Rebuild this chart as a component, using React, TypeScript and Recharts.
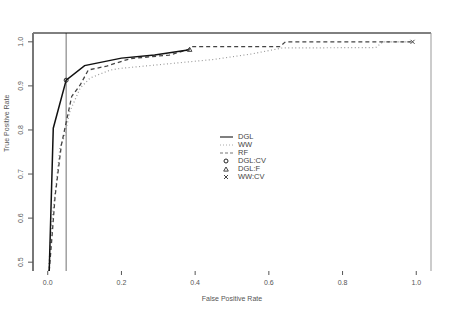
import React from "react";
import { ComposedChart, Line, Scatter, XAxis, YAxis, ReferenceLine, Legend } from "recharts";

// ROC curves (false positive rate vs true positive rate)
const dglFpr = [0.004, 0.015, 0.05, 0.1, 0.2, 0.29, 0.385];
const dglTpr = [0.48, 0.804, 0.913, 0.946, 0.963, 0.97, 0.982];

const wwFpr = [0.002, 0.012, 0.024, 0.033, 0.047, 0.06, 0.088, 0.115, 0.17, 0.2, 0.3, 0.45, 0.55, 0.636, 0.89, 0.91, 0.99];
const wwTpr = [0.48, 0.6, 0.686, 0.76, 0.789, 0.842, 0.895, 0.918, 0.936, 0.94, 0.948, 0.96, 0.972, 0.986, 0.987, 1.0, 1.0];

const rfFpr = [0.004, 0.013, 0.02, 0.037, 0.065, 0.088, 0.11, 0.16, 0.225, 0.33, 0.38, 0.39, 0.63, 0.645, 0.99];
const rfTpr = [0.48, 0.573, 0.65, 0.766, 0.876, 0.902, 0.936, 0.945, 0.962, 0.97, 0.982, 0.989, 0.989, 1.0, 1.0];

// single operating points
const dglCvPoint = [0.05, 0.913];
const dglFPoint = [0.385, 0.982];
const wwCvPoint = [0.99, 1.0];

const xTicks = [0, 0.2, 0.4, 0.6, 0.8, 1.0];
const yTicks = [0.5, 0.6, 0.7, 0.8, 0.9, 1.0];
const cutoffFpr = 0.05;

const legendNames = ["DGL", "WW", "RF", "DGL:CV", "DGL:F", "WW:CV"];

const toPoints = (xs: number[], ys: number[]) => xs.map((x, i) => ({ x, y: ys[i] }));

const FONT = "'Liberation Sans', Arial, sans-serif";
const TEXT = "#555";

const YTick = ({ x, y, payload }: any) => (
  <text
    x={x - 3}
    y={y}
    transform={`rotate(-90, ${x - 3}, ${y})`}
    textAnchor="middle"
    fontSize={7}
    fill={TEXT}
    fontFamily={FONT}
  >
    {payload.value.toFixed(1)}
  </text>
);

const Circle = ({ cx, cy }: any) => <circle cx={cx} cy={cy} r={2} fill="none" stroke="#222" strokeWidth={1} />;
const Triangle = ({ cx, cy }: any) => (
  <path d={`M${cx},${cy - 2.5}L${cx + 2.3},${cy + 1.6}L${cx - 2.3},${cy + 1.6}Z`} fill="none" stroke="#444" strokeWidth={1} />
);
const Cross = ({ cx, cy }: any) => (
  <path d={`M${cx - 2},${cy - 2}L${cx + 2},${cy + 2}M${cx - 2},${cy + 2}L${cx + 2},${cy - 2}`} stroke="#444" strokeWidth={1} />
);

function LegendBox() {
  const sample = (i: number) => {
    if (i === 0) return <line x1={2} x2={15} y1={4} y2={4} stroke="#555" strokeWidth={1.5} />;
    if (i === 1) return <line x1={2} x2={15} y1={4} y2={4} stroke="#aaa" strokeWidth={1} strokeDasharray="1 2" />;
    if (i === 2) return <line x1={2} x2={15} y1={4} y2={4} stroke="#777" strokeWidth={1.2} strokeDasharray="3 2" />;
    if (i === 3) return <Circle cx={8} cy={4} />;
    if (i === 4) return <Triangle cx={8} cy={4.5} />;
    return <Cross cx={8} cy={4} />;
  };
  return (
    <div style={{ fontFamily: FONT, fontSize: 7.5, color: "#444", lineHeight: "8px" }}>
      {legendNames.map((name, i) => (
        <div key={name} style={{ display: "flex", alignItems: "center", height: 8 }}>
          <svg width={20} height={8}>{sample(i)}</svg>
          <span>{name}</span>
        </div>
      ))}
    </div>
  );
}

export default function App() {
  return (
    <div style={{ position: "fixed", left: 0, top: 0, background: "#fff" }}>
      <ComposedChart width={450} height={312} margin={{ top: 32, right: 18, left: 2, bottom: 9 }}>
        <XAxis
          dataKey="x"
          type="number"
          domain={[-0.04, 1.04]}
          ticks={xTicks}
          allowDataOverflow
          axisLine={false}
          tickLine={{ stroke: "#555" }}
          tickSize={4}
          tickMargin={5}
          height={32}
          tick={{ fontSize: 7, fill: TEXT, fontFamily: FONT }}
          tickFormatter={(v: number) => v.toFixed(1)}
          label={{ value: "False Positive Rate", position: "insideBottom", offset: 2, fontSize: 7, fill: TEXT, fontFamily: FONT }}
        />
        <XAxis xAxisId="top" dataKey="x" orientation="top" type="number" domain={[-0.04, 1.04]} allowDataOverflow height={1} tick={false} tickLine={false} axisLine={{ stroke: "#000", strokeWidth: 1 }} />
        <YAxis
          type="number"
          domain={[0.48, 1.02]}
          ticks={yTicks}
          allowDataOverflow
          width={31}
          axisLine={{ stroke: "#777", strokeWidth: 2 }}
          tickLine={{ stroke: "#555" }}
          tickSize={5}
          tickMargin={2}
          tick={<YTick />}
          label={{ value: "True Positive Rate", angle: -90, position: "insideLeft", offset: 5, fontSize: 7, fill: TEXT, fontFamily: FONT }}
        />
        <YAxis yAxisId="right" orientation="right" type="number" domain={[0.48, 1.02]} allowDataOverflow width={1} tick={false} tickLine={false} axisLine={{ stroke: "#999", strokeWidth: 1 }} />
        <ReferenceLine x={cutoffFpr} stroke="#888" strokeWidth={1.2} />
        <Line data={toPoints(wwFpr, wwTpr)} dataKey="y" type="linear" stroke="#999" strokeWidth={1.2} strokeDasharray="1 2.5" dot={false} isAnimationActive={false} />
        <Line data={toPoints(rfFpr, rfTpr)} dataKey="y" type="linear" stroke="#444" strokeWidth={1.3} strokeDasharray="4 3" dot={false} isAnimationActive={false} />
        <Line data={toPoints(dglFpr, dglTpr)} dataKey="y" type="linear" stroke="#111" strokeWidth={1.5} dot={false} isAnimationActive={false} />
        <Scatter data={[{ x: dglCvPoint[0], y: dglCvPoint[1] }]} dataKey="y" shape={<Circle />} isAnimationActive={false} />
        <Scatter data={[{ x: dglFPoint[0], y: dglFPoint[1] }]} dataKey="y" shape={<Triangle />} isAnimationActive={false} />
        <Scatter data={[{ x: wwCvPoint[0], y: wwCvPoint[1] }]} dataKey="y" shape={<Cross />} isAnimationActive={false} />
        <Legend
          layout="vertical"
          align="center"
          verticalAlign="middle"
          content={() => <LegendBox />}
          wrapperStyle={{ position: "absolute", left: 218, top: 133, width: 80, height: 50 }}
        />
      </ComposedChart>
    </div>
  );
}
